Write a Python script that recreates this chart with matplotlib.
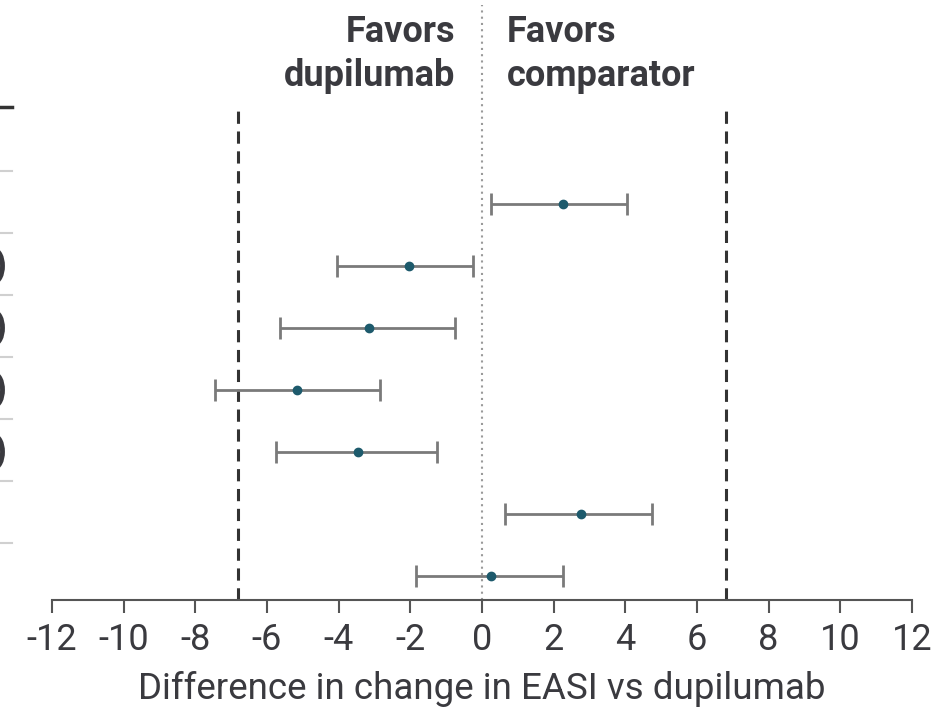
import matplotlib
matplotlib.use("Agg")
import matplotlib.pyplot as plt
from matplotlib.patches import Arc
from matplotlib.transforms import blended_transform_factory

plt.rcParams["font.family"] = ["Roboto", "DejaVu Sans"]

# comparisons top to bottom (row 0 is an empty header row of the table)
rows = [1, 2, 3, 4, 5, 6, 7]
est = [2.25, -2.05, -3.15, -5.15, -3.45, 2.75, 0.25]
lo = [0.25, -4.05, -5.65, -7.45, -5.75, 0.65, -1.85]
hi = [4.05, -0.25, -0.75, -2.85, -1.25, 4.75, 2.25]
margins = [-6.8, 6.8]          # dashed margin lines
xticks = list(range(-12, 13, 2))
row_lines = [0.47, 1.47, 2.47, 3.47, 4.47, 5.47, 6.47]  # table row separators
o_rows = [2, 3, 4, 5]          # rows with a cut-off round glyph at the left edge

txt = "#3a3a3f"
fig = plt.figure(figsize=(9.45, 7.13), dpi=100)
ax = fig.add_axes([52/945, 113/713, 860/945, 493/713])

# zero line (goes up through the header) and margin lines
ax.axvline(0, ymin=0, ymax=1.207, color="#9a9a9a", lw=1.5, ls=(0, (1, 2)), clip_on=False)
for m in margins:
    ax.axvline(m, color="#333333", lw=2.2, ls=(0, (4, 2.5)))

xerr = [[e - l for e, l in zip(est, lo)], [h - e for e, h in zip(est, hi)]]
ax.errorbar(est, rows, xerr=xerr, fmt="o", color="#1d5a6c", markersize=6,
            ecolor="#7a7a7a", elinewidth=2, capsize=8, capthick=2, zorder=3)

ax.set_xlim(-12, 12)
ax.set_ylim(7.39, -0.565)
ax.set_xticks(xticks)
ax.set_xticklabels([str(t) for t in xticks])
ax.set_yticks([])
for s in ["top", "right", "left"]:
    ax.spines[s].set_visible(False)
ax.spines["bottom"].set_color("#555555")
ax.spines["bottom"].set_linewidth(1.5)
ax.tick_params(axis="x", length=9, width=1.5, color="#555555", labelsize=26,
               labelcolor=txt, pad=7)
ax.set_xlabel("Difference in change in EASI vs dupilumab", fontsize=26.5, color=txt, labelpad=9)

# table fragments at the left edge
tr = blended_transform_factory(fig.transFigure, ax.transData)
ax.plot([0, 12/945], [-0.565, -0.565], transform=tr, color="#333333", lw=2.5, clip_on=False)
for y in row_lines:
    ax.plot([0, 12/945], [y, y], transform=tr, color="#d0d0d0", lw=1.5, clip_on=False)
for r in o_rows:
    ax.add_patch(Arc((-6/945, r), 17/945, 0.52, theta1=-90, theta2=90, transform=tr,
                     color=txt, lw=3.5, clip_on=False))

# headers
fig.text(455/945, 1 - 54/713, "Favors\ndupilumab", ha="right", va="center",
         fontsize=26, fontweight="bold", color=txt, linespacing=1.3)
fig.text(507/945, 1 - 54/713, "Favors\ncomparator", ha="left", va="center",
         fontsize=26, fontweight="bold", color=txt, linespacing=1.3)

fig.savefig("out.png", dpi=100)
